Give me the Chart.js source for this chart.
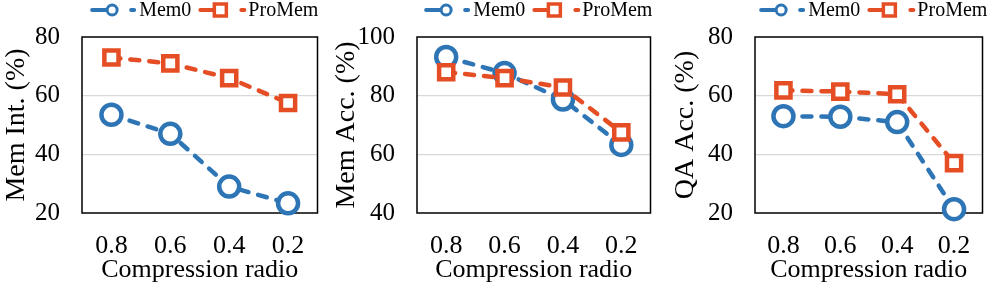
<!DOCTYPE html>
<html>
<head>
<meta charset="utf-8">
<script src="https://cdn.jsdelivr.net/npm/chart.js@4/dist/chart.umd.min.js"></script>
<style>
  body { margin: 0; background: #fff; }
  canvas { position: absolute; top: 0; }
</style>
</head>
<body>
<canvas id="c1" width="332" height="297" style="left:0px"></canvas>
<canvas id="c2" width="333" height="297" style="left:332px"></canvas>
<canvas id="c3" width="332" height="297" style="left:665px"></canvas>
<script>
// データ
const ratios = ['0.8', '0.6', '0.4', '0.2'];
const seriesNames = ['Mem0', 'ProMem'];

const memIntMem0 = [53.5, 47, 29, 23.3];
const memIntProMem = [73, 71, 66, 57.5];

const memAccMem0 = [93.2, 87.7, 78.7, 63.2];
const memAccProMem = [88, 86, 82.8, 67.5];

const qaAccMem0 = [53, 52.8, 51, 21.3];
const qaAccProMem = [61.8, 61.4, 60.5, 37];

const BLUE = '#2E75B6';
const RED = '#E54D24';
const FONT = '"Liberation Serif", "Times New Roman", serif';

// 枠線（プロット領域の黒い四角）
const framePlugin = {
  id: 'frame',
  beforeDatasetsDraw(chart) {
    const { ctx, chartArea: a } = chart;
    ctx.save();
    ctx.strokeStyle = '#000';
    ctx.lineWidth = 1.5;
    ctx.strokeRect(a.left, a.top, a.right - a.left, a.bottom - a.top);
    ctx.restore();
  }
};

// 上部の凡例（線＋マーカー＋点）
const legendPlugin = {
  id: 'topLegend',
  afterDraw(chart) {
    const { ctx, chartArea: a } = chart;
    ctx.save();
    ctx.font = '20px ' + FONT;
    ctx.textBaseline = 'middle';
    ctx.textAlign = 'left';
    const sets = chart.data.datasets;
    let total = 0;
    sets.forEach((ds, i) => {
      total += 49 + ctx.measureText(ds.label).width;
      if (i > 0) total += 7;
    });
    let x = (a.left + a.right) / 2 + 4 - total / 2;
    const y = 10;
    sets.forEach(ds => {
      const isRect = ds.pointStyle === 'rect';
      ctx.strokeStyle = ds.borderColor;
      ctx.lineCap = 'round';
      ctx.lineWidth = 4;
      ctx.beginPath();
      ctx.moveTo(x + 2, y);
      ctx.lineTo(x + 22, y);
      const d = isRect ? 43 : 41;
      ctx.moveTo(d + x, y);
      ctx.lineTo(d + x + 3, y);
      ctx.stroke();
      ctx.fillStyle = '#fff';
      ctx.beginPath();
      if (isRect) {
        ctx.lineWidth = 3.5;
        ctx.rect(x + 16, y - 6, 12, 12);
      } else {
        ctx.lineWidth = 3;
        ctx.arc(x + 22, y, 5, 0, Math.PI * 2);
      }
      ctx.fill();
      ctx.stroke();
      ctx.fillStyle = '#000';
      const tx = x + (isRect ? 50 : 49);
      ctx.fillText(ds.label, tx, y + 1);
      x = tx + ctx.measureText(ds.label).width + 7;
    });
    ctx.restore();
  }
};

function makeDataset(label, data, color, style, order) {
  return {
    label: label,
    data: data,
    borderColor: color,
    backgroundColor: '#fff',
    borderWidth: 4.5,
    borderDash: [9, 10],
    borderCapStyle: 'round',
    pointStyle: style,
    pointRadius: 10,
    pointBorderWidth: 4.5,
    pointBackgroundColor: '#fff',
    pointBorderColor: color,
    tension: 0,
    clip: false,
    order: order
  };
}

function makeChart(id, yTitle, yMin, yMax, mem0, proMem, axisWidth, titlePad, rightPad) {
  const ctx = document.getElementById(id).getContext('2d');
  return new Chart(ctx, {
    type: 'line',
    data: {
      labels: ratios,
      datasets: [
        makeDataset(seriesNames[0], mem0, BLUE, 'circle', 2),
        makeDataset(seriesNames[1], proMem, RED, 'rect', 1)
      ]
    },
    options: {
      responsive: false,
      animation: false,
      layout: { padding: { top: 33, bottom: 0, left: 0, right: rightPad } },
      plugins: {
        legend: { display: false },
        tooltip: { enabled: false }
      },
      scales: {
        x: {
          offset: true,
          grid: { display: false, drawTicks: false },
          border: { display: false },
          ticks: { color: '#000', font: { family: FONT, size: 26 }, padding: 18 },
          title: {
            display: true,
            text: 'Compression radio',
            color: '#000',
            font: { family: FONT, size: 26, lineHeight: 1.2 },
            padding: { top: 0, bottom: 11 }
          },
          afterFit(scale) { scale.height = 84; }
        },
        y: {
          min: yMin,
          max: yMax,
          grid: {
            drawTicks: false,
            lineWidth: 1.2,
            color: c => (c.tick.value > yMin && c.tick.value < yMax) ? '#D9D9D9' : 'rgba(0,0,0,0)'
          },
          border: { display: false },
          ticks: { stepSize: 20, color: '#000', font: { family: FONT, size: 25 }, padding: 22 },
          title: {
            display: true,
            text: yTitle,
            color: '#000',
            font: { family: FONT, size: 28, lineHeight: 1 },
            padding: { top: titlePad, bottom: 0 }
          },
          afterFit(scale) { scale.width = axisWidth; }
        }
      }
    },
    plugins: [framePlugin, legendPlugin]
  });
}

makeChart('c1', 'Mem Int. (%)', 20, 80, memIntMem0, memIntProMem, 82, 3, 8);
makeChart('c2', 'Mem Acc. (%)', 40, 100, memAccMem0, memAccProMem, 85, 1, 2);
makeChart('c3', 'QA Acc. (%)', 20, 80, qaAccMem0, qaAccProMem, 90, 7, 6);
</script>
</body>
</html>
